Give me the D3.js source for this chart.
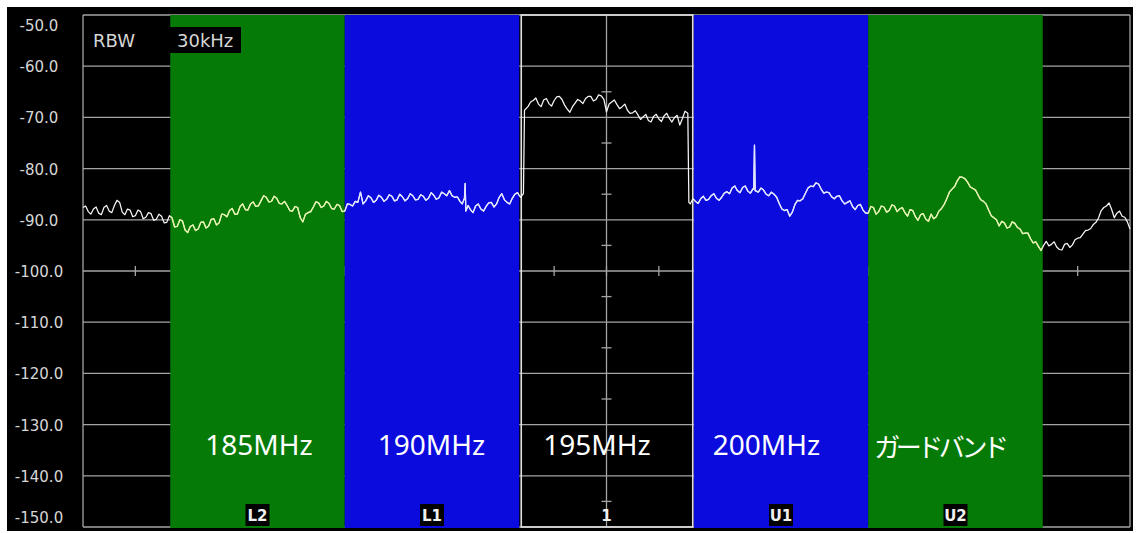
<!DOCTYPE html>
<html>
<head>
<meta charset="utf-8">
<script src="https://cdn.jsdelivr.net/npm/d3@7"></script>
<style>
  html, body { margin: 0; padding: 0; background: #ffffff; }
  svg { display: block; }
</style>
</head>
<body>
<script>
// ---------------- DATA ----------------
const yTicks = [-50, -60, -70, -80, -90, -100, -110, -120, -130, -140, -150];
const centerTicks = [-65, -75, -85, -95, -105, -115, -125, -135, -145];
const freqTicks = [181.5, 183, 184.5, 186, 187.5, 189, 190.5, 192, 193.5, 195, 196.5, 198, 199.5, 201, 202.5, 204, 205.5, 207, 208.5];

const bandNames = ["L2", "L1", "1", "U1", "U2"];
const bandLow   = [182.5, 187.5, 192.5, 197.5, 202.5];
const bandHigh  = [187.5, 192.5, 197.5, 202.5, 207.5];
const bandKind  = ["green", "blue", "main", "blue", "green"];
const bandNotes = ["185MHz", "190MHz", "195MHz", "200MHz", "ガードバンド"];

const rbwLabel = "RBW";
const rbwValue = "30kHz";

const traceFreq = [
  180.000,180.075,180.150,180.225,180.300,180.375,180.450,180.525,180.600,180.675,180.750,180.825,180.900,180.975,181.050,181.125,181.200,181.275,181.350,181.425,
  181.500,181.575,181.650,181.725,181.800,181.875,181.950,182.025,182.100,182.175,182.250,182.325,182.400,182.475,182.550,182.625,182.700,182.775,182.850,182.925,
  183.000,183.075,183.150,183.225,183.300,183.375,183.450,183.525,183.600,183.675,183.750,183.825,183.900,183.975,184.050,184.125,184.200,184.275,184.350,184.425,
  184.500,184.575,184.650,184.725,184.800,184.875,184.950,185.025,185.100,185.175,185.250,185.325,185.400,185.475,185.550,185.625,185.700,185.775,185.850,185.925,
  186.000,186.075,186.150,186.225,186.300,186.375,186.450,186.525,186.600,186.675,186.750,186.825,186.900,186.975,187.050,187.125,187.200,187.275,187.350,187.425,
  187.500,187.575,187.650,187.725,187.800,187.875,187.950,188.025,188.100,188.175,188.250,188.325,188.400,188.475,188.550,188.625,188.700,188.775,188.850,188.925,
  189.000,189.075,189.150,189.225,189.300,189.375,189.450,189.525,189.600,189.675,189.750,189.825,189.900,189.975,190.050,190.125,190.200,190.275,190.350,190.425,
  190.500,190.575,190.650,190.725,190.800,190.865,190.930,190.950,190.970,191.035,191.100,191.175,191.250,191.325,191.400,191.475,191.550,191.625,
  191.700,191.775,191.850,191.925,192.000,192.075,192.150,192.225,192.300,192.375,192.450,192.535,192.620,192.650,192.750,192.825,192.900,192.975,
  193.050,193.125,193.200,193.275,193.350,193.425,193.500,193.575,193.650,193.725,193.800,193.875,193.950,194.025,194.100,194.175,194.250,194.325,194.400,194.475,
  194.550,194.625,194.700,194.775,194.850,194.925,195.000,195.075,195.150,195.225,195.300,195.375,195.450,195.525,195.600,195.675,195.750,195.825,195.900,195.975,
  196.050,196.125,196.200,196.275,196.350,196.425,196.500,196.575,196.650,196.725,196.800,196.875,196.950,197.025,197.100,197.175,197.250,197.330,
  197.360,197.400,197.475,197.550,197.625,197.700,197.775,197.850,197.925,198.000,198.075,198.150,198.225,198.300,198.375,198.450,198.525,198.600,198.675,
  198.750,198.825,198.900,198.975,199.050,199.125,199.200,199.220,199.240,199.260,199.350,199.425,199.500,199.575,199.650,199.725,
  199.800,199.875,199.950,200.025,200.100,200.175,200.250,200.325,200.400,200.475,200.550,200.625,200.700,200.775,200.850,200.925,201.000,201.075,201.150,201.225,
  201.300,201.375,201.450,201.525,201.600,201.675,201.750,201.825,201.900,201.975,202.050,202.125,202.200,202.275,202.350,202.425,202.500,202.575,202.650,202.725,
  202.800,202.875,202.950,203.025,203.100,203.175,203.250,203.325,203.400,203.475,203.550,203.625,203.700,203.775,203.850,203.925,204.000,204.075,204.150,204.225,
  204.300,204.375,204.450,204.525,204.600,204.675,204.750,204.825,204.900,204.975,205.050,205.125,205.200,205.275,205.350,205.425,205.500,205.575,205.650,205.725,
  205.800,205.875,205.950,206.025,206.100,206.175,206.250,206.325,206.400,206.475,206.550,206.625,206.700,206.775,206.850,206.925,207.000,207.075,207.150,207.225,
  207.300,207.375,207.450,207.525,207.600,207.675,207.750,207.825,207.900,207.975,208.050,208.125,208.200,208.275,208.350,208.425,208.500,208.575,208.650,208.725,
  208.800,208.875,208.950,209.025,209.100,209.175,209.250,209.325,209.400,209.475,209.550,209.625,209.700,209.775,209.850,209.925,210.000
];
const traceLevel = [
  -87.6,-87.3,-88.4,-88.9,-87.9,-87.5,-88.7,-89.0,-87.6,-87.2,-88.3,-88.6,-87.2,-86.2,-86.6,-88.5,-89.0,-87.9,-88.1,-89.4,
  -89.2,-88.1,-88.4,-89.8,-89.5,-88.6,-88.8,-90.1,-89.9,-88.9,-89.3,-90.6,-90.5,-89.2,-89.6,-91.4,-91.3,-90.0,-90.2,-92.0,
  -92.5,-91.3,-91.0,-92.1,-91.8,-90.5,-90.4,-91.6,-91.2,-89.9,-89.8,-91.0,-90.6,-88.9,-89.0,-89.4,-88.2,-87.8,-88.9,-88.9,
  -87.4,-86.9,-88.0,-88.1,-86.9,-86.5,-87.4,-87.3,-86.3,-85.3,-85.6,-86.5,-86.4,-85.4,-85.8,-86.8,-86.9,-86.4,-87.2,-88.2,
  -88.3,-87.4,-87.6,-89.6,-90.4,-88.9,-88.6,-88.4,-87.5,-86.5,-86.7,-87.6,-87.3,-86.4,-86.8,-87.8,-87.9,-87.0,-87.2,-88.4,
  -88.3,-86.9,-87.0,-87.3,-86.4,-86.6,-84.6,-86.9,-86.3,-85.3,-85.7,-86.6,-86.2,-85.2,-85.6,-86.4,-86.0,-85.1,-85.4,-86.3,
  -86.1,-85.0,-85.5,-86.3,-85.9,-84.9,-85.3,-86.1,-86.0,-85.1,-85.4,-86.2,-85.8,-84.7,-85.2,-86.0,-85.7,-84.6,-84.9,-85.3,
  -84.3,-85.3,-85.6,-85.5,-86.4,-86.9,-85.8,-82.9,-88.3,-87.2,-88.0,-88.6,-87.3,-86.9,-87.9,-88.3,-87.4,-86.7,
  -86.6,-87.5,-86.9,-85.6,-84.9,-86.1,-86.6,-86.9,-85.8,-85.0,-84.7,-85.6,-84.9,-68.6,-67.9,-67.0,-66.7,-66.2,
  -67.4,-67.9,-66.6,-66.3,-67.3,-67.8,-66.7,-66.0,-65.9,-66.5,-67.6,-68.4,-69.0,-67.9,-67.2,-66.5,-66.8,-67.3,-66.3,-65.9,
  -65.9,-66.8,-66.5,-65.6,-65.8,-66.5,-68.9,-67.4,-67.0,-66.6,-67.5,-68.3,-67.9,-67.4,-68.6,-69.2,-69.1,-68.7,-69.5,-70.4,
  -69.9,-69.4,-70.6,-70.9,-69.8,-69.4,-70.3,-70.8,-69.7,-69.2,-70.2,-70.9,-70.0,-69.6,-71.5,-70.2,-68.8,-69.2,
  -86.6,-86.9,-85.9,-86.4,-86.8,-85.9,-85.4,-86.2,-86.0,-85.3,-84.9,-85.8,-86.2,-85.6,-84.8,-84.5,-84.9,-83.8,-83.4,
  -84.3,-84.7,-83.7,-83.4,-84.4,-84.8,-83.9,-84.0,-75.4,-84.3,-84.6,-83.8,-84.2,-85.0,-85.3,-84.6,
  -85.0,-85.6,-86.8,-87.9,-88.2,-88.0,-89.3,-88.5,-87.0,-86.2,-86.3,-85.9,-84.8,-83.8,-83.4,-83.5,-82.8,-83.0,-84.0,-84.8,
  -84.6,-84.7,-85.5,-85.9,-85.4,-85.3,-86.3,-86.9,-86.6,-86.3,-87.4,-88.0,-87.2,-87.0,-88.1,-88.7,-88.7,-87.4,-87.6,-88.9,
  -88.4,-87.3,-87.5,-88.5,-88.2,-87.1,-87.3,-88.4,-87.9,-87.6,-88.6,-89.3,-88.0,-88.2,-89.4,-90.1,-89.0,-88.8,-89.9,-90.3,
  -88.9,-89.8,-89.4,-88.3,-87.8,-87.0,-85.9,-84.6,-84.0,-83.5,-82.4,-81.6,-81.7,-82.0,-82.7,-83.6,-83.9,-84.2,-85.2,-86.1,
  -86.4,-86.9,-88.1,-89.2,-89.6,-90.0,-91.2,-90.3,-90.6,-91.6,-91.4,-90.4,-90.7,-91.5,-91.8,-92.7,-92.6,-92.6,-93.7,-94.5,
  -94.3,-95.2,-96.0,-95.0,-94.2,-95.1,-94.8,-94.3,-95.3,-95.8,-95.9,-94.8,-94.6,-95.4,-94.9,-93.9,-93.6,-93.5,-92.8,-92.1,
  -92.0,-91.7,-90.9,-90.5,-89.6,-88.2,-87.6,-87.3,-86.7,-88.0,-89.6,-88.7,-88.3,-89.3,-89.5,-90.4,-91.8
];

// ---------------- LAYOUT / STYLE ----------------
const W = 1136, H = 533;
const plot = { left: 83, right: 1130, top: 15, bottom: 527 };
const colors = {
  frame: "#000000", grid: "#a4a4a4", green: "#067a07", blue: "#0b0bde",
  box: "#e2e2e2", trace: "#f6f6f6", traceGreen: "#e4f2a4", traceBlue: "#e2e6ff",
  label: "#d6d6d6"
};
const noteDx = [35, 33, 24, 19, 6];

const svg = d3.select("body").append("svg").attr("width", W).attr("height", H);

const x = d3.scaleLinear().domain([180, 210]).range([plot.left, plot.right]);
const y = d3.scaleLinear().domain([-150, -50]).range([plot.bottom, plot.top]);

// frame
svg.append("rect").attr("x", 7).attr("y", 7).attr("width", 1126).attr("height", 524).attr("fill", colors.frame);

// grid
const grid = svg.append("g").attr("stroke", colors.grid).attr("stroke-width", 1.3);
grid.selectAll("line.h").data(yTicks).join("line")
  .attr("x1", plot.left).attr("x2", plot.right)
  .attr("y1", d => y(d)).attr("y2", d => y(d));
grid.selectAll("line.v").data([180, 195, 210]).join("line")
  .attr("x1", d => x(d)).attr("x2", d => x(d))
  .attr("y1", plot.top).attr("y2", plot.bottom);
grid.selectAll("line.ct").data(centerTicks).join("line")
  .attr("x1", x(195) - 5).attr("x2", x(195) + 5)
  .attr("y1", d => y(d)).attr("y2", d => y(d));
grid.selectAll("line.ft").data(freqTicks).join("line")
  .attr("x1", d => x(d)).attr("x2", d => x(d))
  .attr("y1", y(-100) - 5).attr("y2", y(-100) + 5);

// bands
const bands = bandNames.map((n, i) => ({ name: n, lo: bandLow[i], hi: bandHigh[i], kind: bandKind[i], note: bandNotes[i], i }));
svg.append("g").selectAll("rect").data(bands.filter(b => b.kind !== "main")).join("rect")
  .attr("x", d => x(d.lo)).attr("width", d => x(d.hi) - x(d.lo))
  .attr("y", plot.top).attr("height", plot.bottom - plot.top + 1)
  .attr("fill", d => colors[d.kind]);

// main channel box
const mainBand = bands.find(b => b.kind === "main");
svg.append("rect")
  .attr("x", x(mainBand.lo) + 2).attr("width", x(mainBand.hi) - x(mainBand.lo) - 3)
  .attr("y", plot.top).attr("height", plot.bottom - plot.top)
  .attr("fill", "none").attr("stroke", colors.box).attr("stroke-width", 1.6);

// clip paths for trace colouring
const defs = svg.append("defs");
["green", "blue"].forEach(k => {
  defs.append("clipPath").attr("id", "clip-" + k).selectAll("rect")
    .data(bands.filter(b => b.kind === k)).join("rect")
    .attr("x", d => x(d.lo)).attr("width", d => x(d.hi) - x(d.lo))
    .attr("y", 0).attr("height", H);
});

// trace
const pts = traceFreq.map((f, i) => [f, traceLevel[i]]);
const line = d3.line().x(d => x(d[0])).y(d => y(d[1]));
const traceG = svg.append("g").attr("fill", "none").attr("stroke-width", 1.25).attr("stroke-linejoin", "round");
traceG.append("path").attr("d", line(pts)).attr("stroke", colors.trace);
traceG.append("path").attr("d", line(pts)).attr("stroke", colors.traceGreen).attr("clip-path", "url(#clip-green)");
traceG.append("path").attr("d", line(pts)).attr("stroke", colors.traceBlue).attr("clip-path", "url(#clip-blue)");

// y axis labels
const yAxis = d3.axisLeft(y).tickValues(yTicks).tickSize(0).tickFormat(d => d.toFixed(1));
const ax = svg.append("g").attr("transform", `translate(${plot.left},0)`).call(yAxis);
ax.select(".domain").remove();
ax.selectAll("text")
  .attr("x", -44).attr("text-anchor", "middle")
  .attr("fill", colors.label)
  .style("font-family", "'DejaVu Sans', sans-serif").style("font-size", "15px")
  .attr("dy", d => d === -50 ? "1.0em" : (d === -150 ? "-0.28em" : "0.36em"));

// RBW
svg.append("text").attr("x", 93).attr("y", 47).text(rbwLabel)
  .attr("fill", colors.label).style("font-family", "'DejaVu Sans', sans-serif").style("font-size", "18px");
svg.append("rect").attr("x", 170).attr("y", 27).attr("width", 71).attr("height", 26).attr("fill", "#000");
svg.append("text").attr("x", 177).attr("y", 47).text(rbwValue)
  .attr("fill", colors.label).style("font-family", "'DejaVu Sans', sans-serif").style("font-size", "18px");

// bottom channel labels
const bl = svg.append("g");
bl.selectAll("rect").data(bands.filter(b => b.kind !== "main")).join("rect")
  .attr("x", d => x((d.lo + d.hi) / 2) - 12).attr("y", 504).attr("width", 24).attr("height", 22)
  .attr("fill", "#000");
bl.selectAll("text").data(bands).join("text")
  .attr("x", d => x((d.lo + d.hi) / 2)).attr("y", 521)
  .attr("text-anchor", "middle").attr("fill", "#f0f0f0")
  .style("font-family", "'DejaVu Sans', sans-serif").style("font-weight", "bold").style("font-size", "15px")
  .text(d => d.name);

// annotation labels
svg.append("g").selectAll("text").data(bands).join("text")
  .attr("x", d => x(d.lo) + noteDx[d.i]).attr("y", d => d.i === 4 ? 457 : 455)
  .attr("fill", "#ffffff")
  .style("font-family", d => d.i === 4 ? "'Noto Sans CJK JP', sans-serif" : "'Noto Sans', sans-serif")
  .style("font-size", d => d.i === 4 ? "26px" : "28px")
  .style("letter-spacing", d => d.i === 4 ? "-4.5px" : "0px")
  .text(d => d.note);
</script>
</body>
</html>
